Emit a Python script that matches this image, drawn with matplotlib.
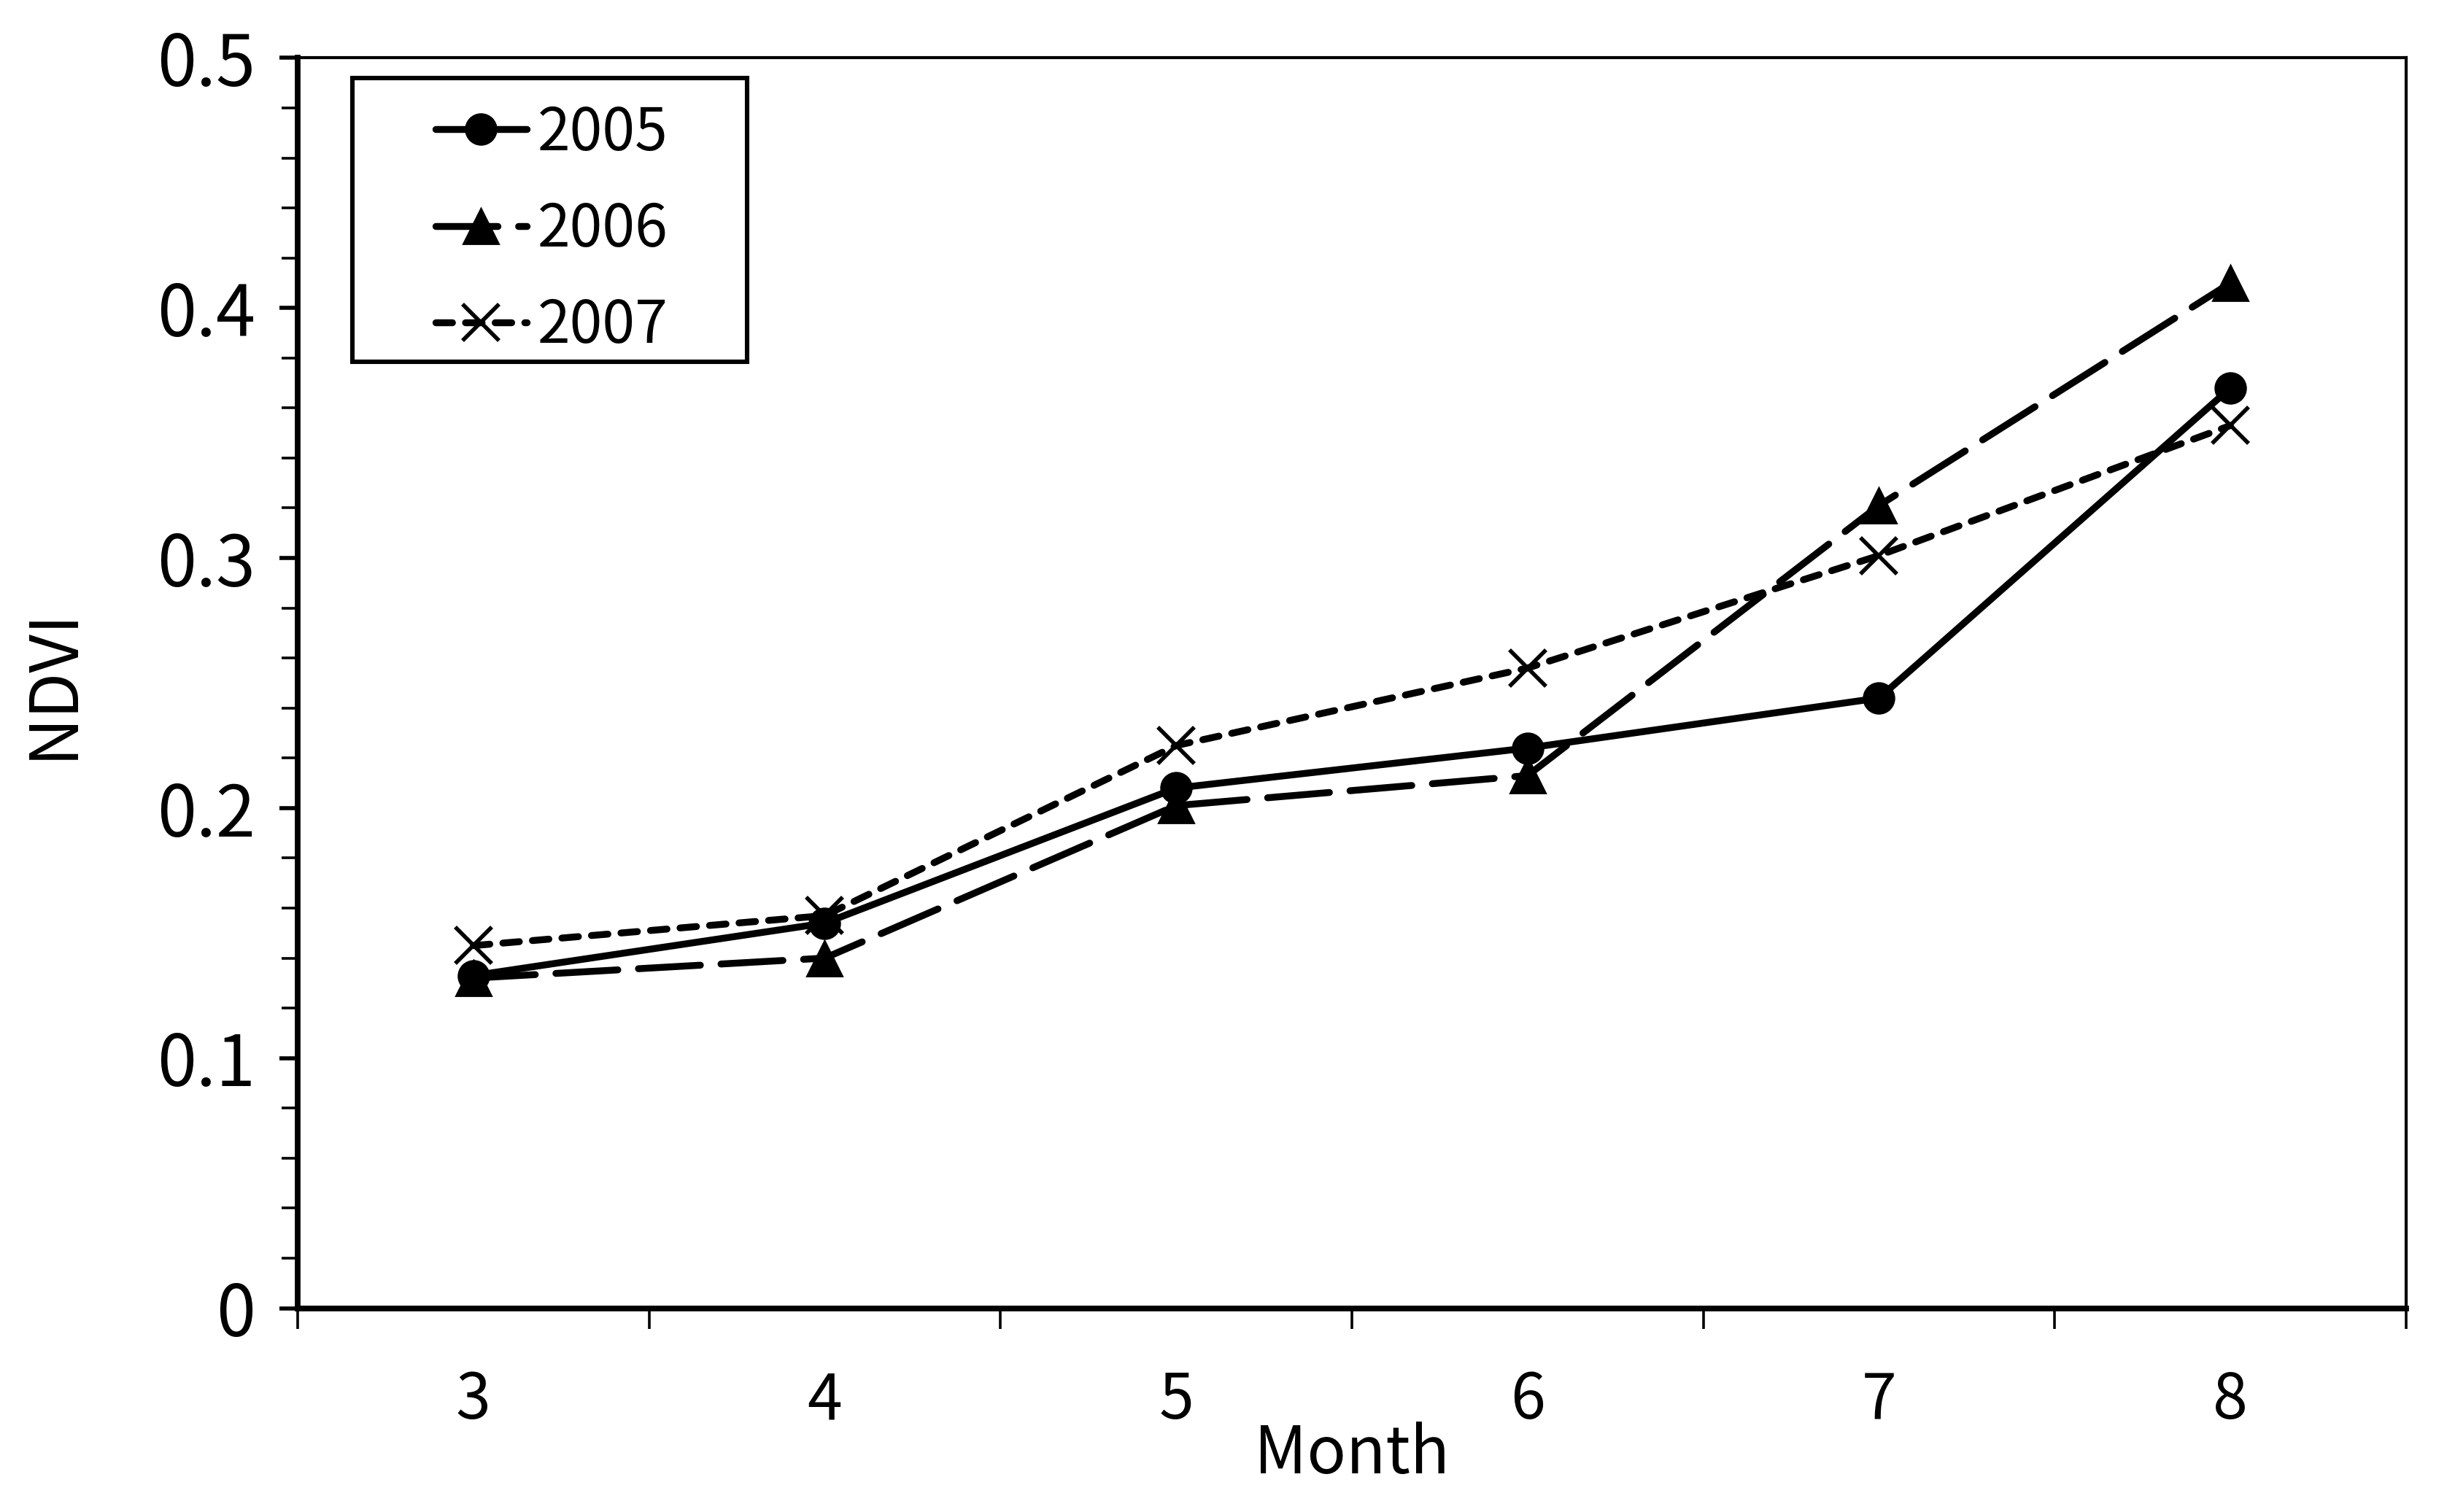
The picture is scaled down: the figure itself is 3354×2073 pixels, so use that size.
import matplotlib
matplotlib.use("Agg")
import matplotlib.pyplot as plt
from matplotlib.patches import Rectangle
from matplotlib.ticker import MultipleLocator

plt.rcParams["font.family"] = ["Noto Sans CJK JP", "DejaVu Sans"]

months = [3, 4, 5, 6, 7, 8]
ndvi_2005 = [0.133, 0.154, 0.208, 0.224, 0.244, 0.368]
ndvi_2006 = [0.132, 0.140, 0.201, 0.213, 0.321, 0.410]
ndvi_2007 = [0.145, 0.157, 0.225, 0.256, 0.301, 0.353]
years = ["2005", "2006", "2007"]
yticks = [0, 0.1, 0.2, 0.3, 0.4, 0.5]
ytick_labels = ["0", "0.1", "0.2", "0.3", "0.4", "0.5"]

fig = plt.figure(figsize=(16.775, 10.365), dpi=200)
ax = fig.add_axes([0.1216, 0.1348, 0.8614, 0.8269])

lw = 3.4
ax.plot(months, ndvi_2005, color="black", lw=lw, marker="o", markersize=15,
        label=years[0], solid_capstyle="round")
ax.plot(months, ndvi_2006, color="black", lw=lw, marker="^", markersize=17,
        dashes=(9, 3), dash_capstyle="round", label=years[1])
ax.plot(months, ndvi_2007, color="black", lw=lw, marker="x", markersize=18,
        markeredgewidth=2.0, dashes=(2.4, 1.9), dash_capstyle="round",
        label=years[2])

ax.set_xlim(2.5, 8.5)
ax.set_ylim(0, 0.5)
ax.set_xticks(months)
ax.set_xticks([m + 0.5 for m in [2] + months], minor=True)
ax.tick_params(axis="x", which="major", length=0, pad=30, labelsize=31)
ax.tick_params(axis="x", which="minor", length=10, width=1.3, direction="out")
ax.set_yticks(yticks)
ax.set_yticklabels(ytick_labels)
ax.yaxis.set_minor_locator(MultipleLocator(0.02))
ax.tick_params(axis="y", which="major", length=9, width=2.0, pad=12, labelsize=35)
ax.tick_params(axis="y", which="minor", length=8, width=1.3)

ax.spines["left"].set_linewidth(2.8)
ax.spines["bottom"].set_linewidth(2.8)
ax.spines["top"].set_linewidth(1.5)
ax.spines["right"].set_linewidth(1.5)

ax.set_xlabel("Month", fontsize=32, labelpad=-6)
ax.set_ylabel("NDVI", fontsize=33, labelpad=34)

# legend frame drawn separately so the box can be wider than its contents
ax.add_patch(Rectangle((0.026, 0.757), 0.187, 0.2267, transform=ax.transAxes,
                       fill=False, edgecolor="black", lw=2.2, zorder=5))
ax.legend(loc="upper left", bbox_to_anchor=(0.0654, 0.964), fontsize=29,
          frameon=False, handlelength=1.55, handletextpad=0.18,
          labelspacing=0.62, borderpad=0, borderaxespad=0)

fig.savefig("out.png", dpi=200, facecolor="white")
